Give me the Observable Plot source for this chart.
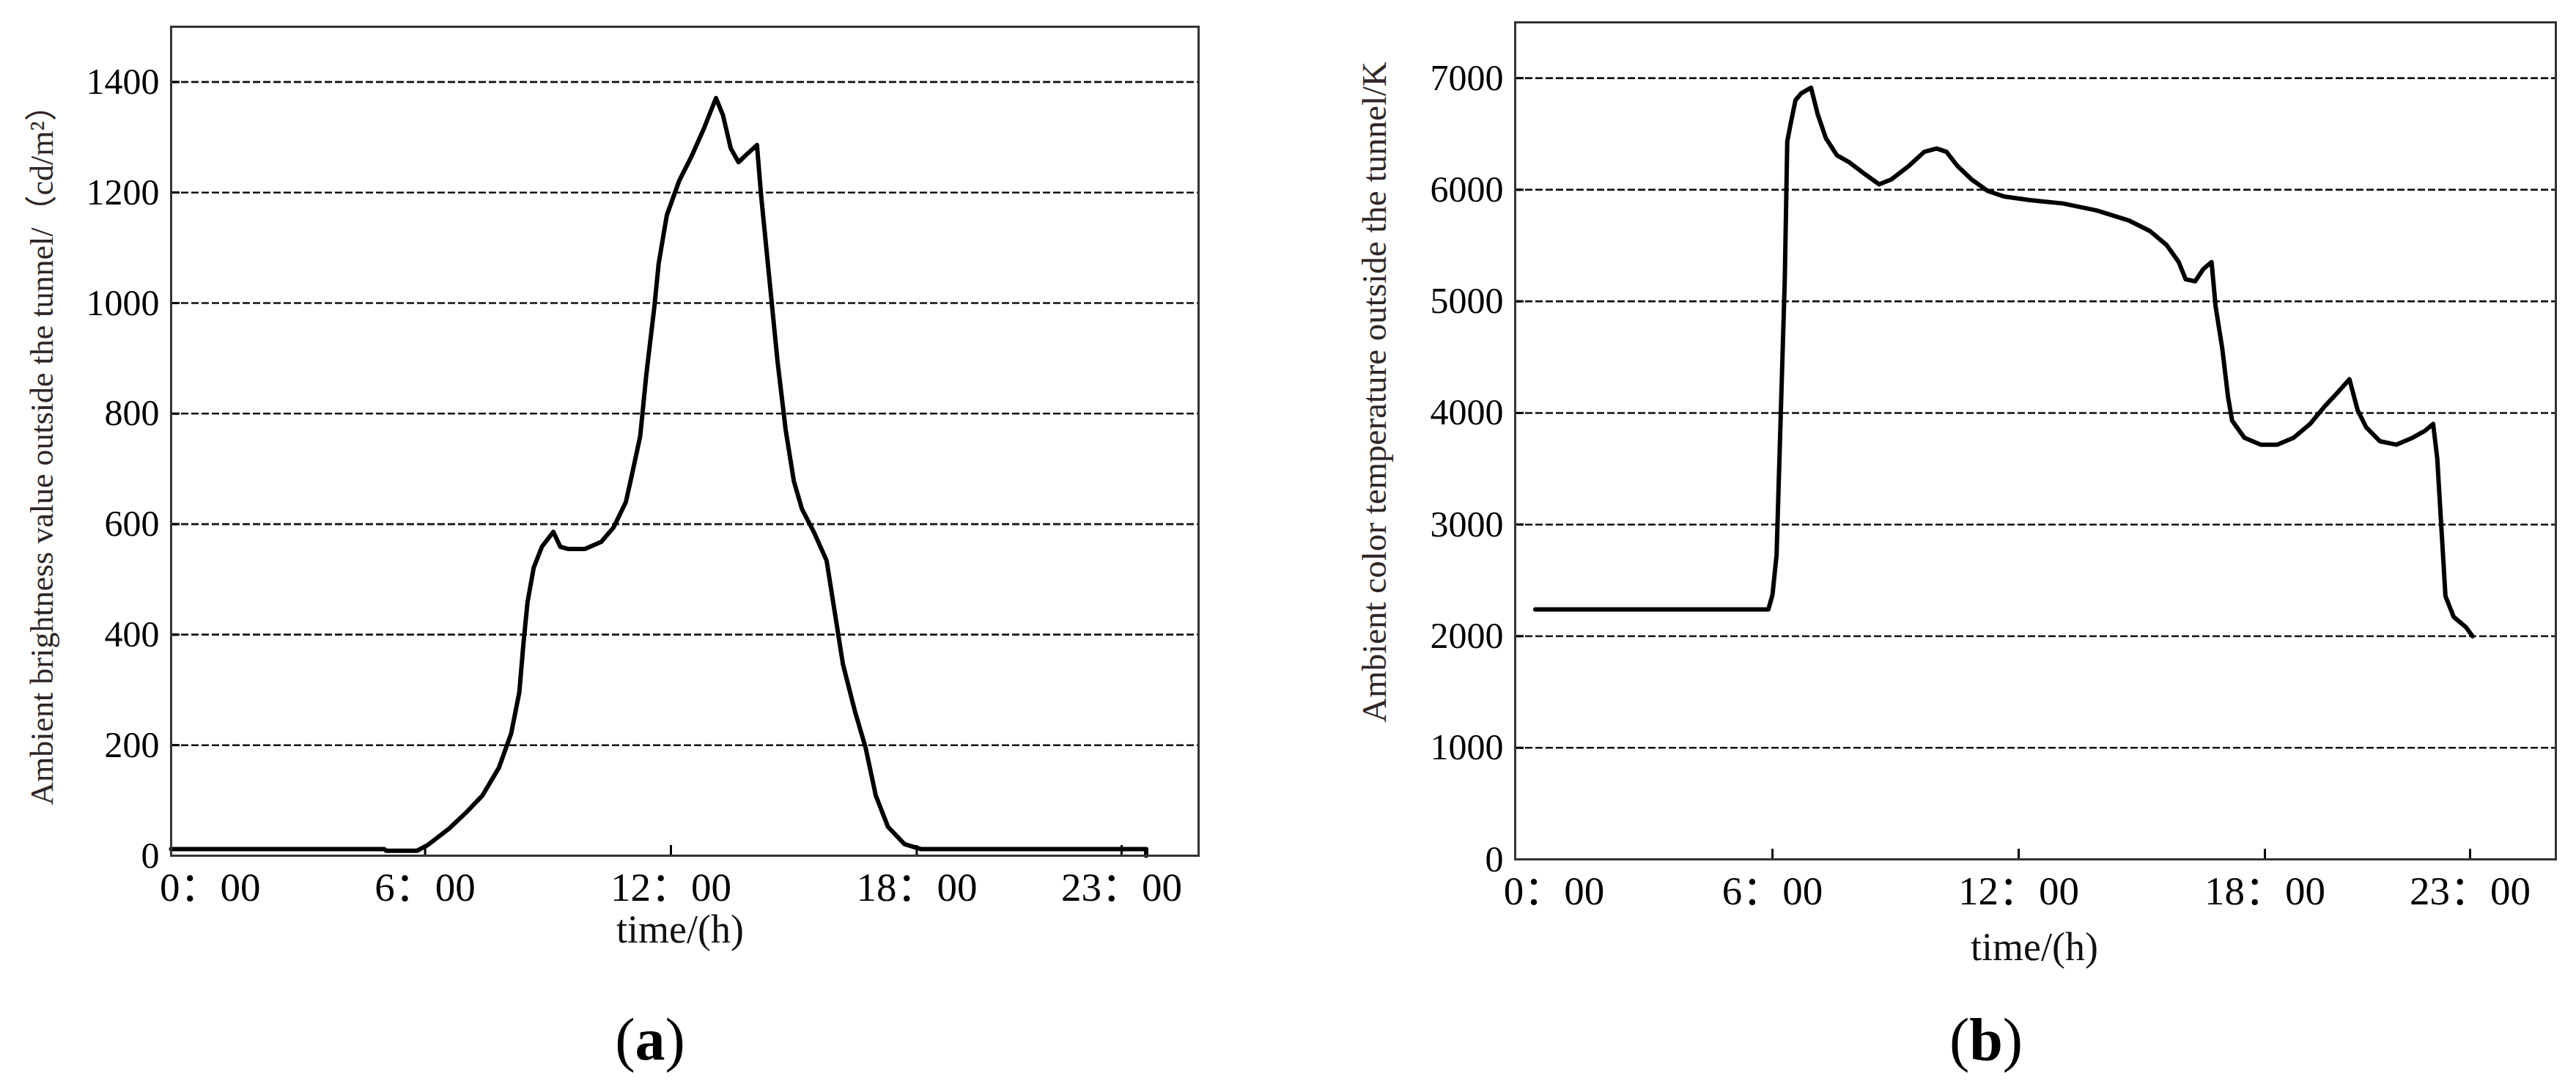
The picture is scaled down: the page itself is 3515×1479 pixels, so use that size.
<!DOCTYPE html>
<html>
<head>
<meta charset="utf-8">
<script src="https://cdn.jsdelivr.net/npm/d3@7"></script>
<script src="https://cdn.jsdelivr.net/npm/@observablehq/plot@0.6"></script>
<style>
  html, body { margin: 0; padding: 0; background: #fff; }
  #wrap { position: relative; width: 3515px; height: 1479px; overflow: hidden; background: #fff;
          font-family: "Liberation Serif", "Times New Roman", "Noto Sans CJK SC", serif; color: #000; }
  .panel { position: absolute; top: 0; }
  .txt { position: absolute; white-space: nowrap; line-height: 1; }
  .ytitle { transform: translate(-50%, -50%) rotate(-90deg); color: #2e2626; }
  .xtitle { transform: translate(-50%, -50%); font-size: 54px; color: #111; }
  .cap { transform: translate(-50%, -50%); font-size: 82px; color: #000; }
  .cap b { font-weight: bold; }
</style>
</head>
<body>
<div id="wrap">
  <div class="panel" id="pa" style="left:0px"></div>
  <div class="panel" id="pb" style="left:1750px"></div>
  <div class="txt ytitle" style="left:58px; top:610px; font-size:44px">Ambient brightness value outside the tunnel/（cd/m²）</div>
  <div class="txt ytitle" style="left:1875px; top:535px; font-size:47px">Ambient color temperature outside the tunnel/K</div>
  <div class="txt xtitle" style="left:928px; top:1268px">time/(h)</div>
  <div class="txt xtitle" style="left:2776px; top:1292px">time/(h)</div>
  <div class="txt cap" style="left:887px; top:1419px">(<b>a</b>)</div>
  <div class="txt cap" style="left:2710px; top:1419px">(<b>b</b>)</div>
</div>
<script>
// ---- data ----
const xTicks = [0, 6, 12, 18, 23];
const xTickLabels = ["0：00", "6：00", "12：00", "18：00", "23：00"];

const yTicksA = [0, 200, 400, 600, 800, 1000, 1200, 1400];
const gridA = [200, 400, 600, 800, 1000, 1200, 1400];
const yTicksB = [0, 1000, 2000, 3000, 4000, 5000, 6000, 7000];
const gridB = [1000, 2000, 3000, 4000, 5000, 6000, 7000];

// panel (a): hour, brightness cd/m2
const hoursA = [-0.2, 5.0, 5.05, 5.8, 6.06, 6.6, 7.0, 7.4, 7.8, 8.1, 8.3, 8.4, 8.5, 8.65, 8.85, 9.13, 9.3, 9.5, 9.9,
  10.3, 10.6, 10.9, 11.05, 11.25, 11.4, 11.6, 11.7, 11.9, 12.2, 12.5, 12.8, 13.1, 13.27, 13.46, 13.65, 13.85, 14.1,
  14.2, 14.4, 14.6, 14.8, 15.0, 15.2, 15.5, 15.8, 15.96, 16.2, 16.5, 16.75, 17.0, 17.3, 17.7, 18.0, 18.1, 23.6, 23.6];
const brightA = [12, 12, 9, 9, 19, 50, 78, 109, 159, 221, 296, 384, 459, 521, 559, 586, 559, 555, 555,
  568, 594, 640, 690, 759, 871, 996, 1071, 1159, 1221, 1265, 1315, 1371, 1340, 1280, 1255, 1269, 1286,
  1196, 1046, 896, 771, 678, 627, 584, 534, 459, 346, 259, 196, 109, 52, 21, 14, 12, 12, 0];

// panel (b): hour, colour temperature K
const hoursB = [0.22, 5.9, 6.0, 6.1, 6.2, 6.3, 6.36, 6.44, 6.56, 6.7, 6.94, 7.1, 7.3, 7.57, 7.87, 8.2, 8.6, 8.9,
  9.33, 9.7, 10.0, 10.24, 10.5, 10.85, 11.25, 11.66, 12.27, 13.08, 13.9, 14.7, 15.2, 15.6, 15.9, 16.07, 16.3, 16.5,
  16.7, 16.8, 16.96, 17.1, 17.2, 17.5, 17.9, 18.3, 18.7, 19.1, 19.45, 19.76, 20.06, 20.26, 20.47, 20.8, 21.2,
  21.6, 21.9, 22.1, 22.2, 22.3, 22.4, 22.6, 22.9, 23.06];
const tempB = [2240, 2240, 2370, 2728, 3963, 5197, 6432, 6586, 6802, 6864, 6914, 6679, 6463, 6309, 6247, 6154, 6049, 6093,
  6216, 6340, 6370, 6340, 6216, 6093, 5988, 5938, 5907, 5877, 5815, 5722, 5630, 5506, 5352, 5198, 5179, 5290,
  5352, 4951, 4580, 4148, 3932, 3778, 3716, 3716, 3778, 3901, 4056, 4179, 4302, 4025, 3870, 3747, 3716,
  3778, 3840, 3901, 3593, 2975, 2358, 2173, 2080, 2000];

// ---- build ----
const dataA = hoursA.map((h, i) => ({h, v: brightA[i]}));
const dataB = hoursB.map((h, i) => ({h, v: tempB[i]}));
const fmtX = d => xTickLabels[xTicks.indexOf(d)];
const FONT = '"Liberation Serif", "Times New Roman", "Noto Sans CJK SC", serif';

function panel({data, yDomain, xDomain, yTicks, grid, width, mL, mR, mT, mB, firstDx}) {
  return Plot.plot({
    width, height: 1300,
    marginLeft: mL, marginRight: mR, marginTop: mT, marginBottom: mB,
    x: {domain: xDomain},
    y: {domain: yDomain},
    style: {fontFamily: FONT, background: "transparent", color: "#000", overflow: "visible"},
    marks: [
      Plot.ruleY(grid, {stroke: "#111", strokeWidth: 2.6, strokeDasharray: "10,4"}),
      Plot.axisY({ticks: yTicks, tickSize: -12, tickPadding: 28, tickFormat: d => String(d),
                  fontSize: 50, strokeWidth: 3, label: null}),
      Plot.axisX({ticks: xTicks.slice(1), tickSize: -14, tickPadding: 36, tickFormat: fmtX,
                  fontSize: 55, strokeWidth: 3, label: null}),
      Plot.axisX({ticks: xTicks.slice(0, 1), tickSize: 0, tickPadding: 22, dx: firstDx, tickFormat: fmtX,
                  fontSize: 55, label: null}),
      Plot.line(data, {x: "h", y: "v", stroke: "#000", strokeWidth: 6, strokeLinejoin: "round"}),
      Plot.frame({stroke: "#333", strokeWidth: 3})
    ]
  });
}

document.getElementById("pa").append(panel({
  data: dataA, yDomain: [0, 1500], xDomain: [-0.2, 24.88], yTicks: yTicksA, grid: gridA,
  width: 1700, mL: 233, mR: 65, mT: 36, mB: 133, firstDx: 42
}));
document.getElementById("pb").append(panel({
  data: dataB, yDomain: [0, 7500], xDomain: [-0.27, 25.09], yTicks: yTicksB, grid: gridB,
  width: 1765, mL: 317, mR: 28, mT: 30, mB: 128, firstDx: 38
}));
</script>
</body>
</html>
